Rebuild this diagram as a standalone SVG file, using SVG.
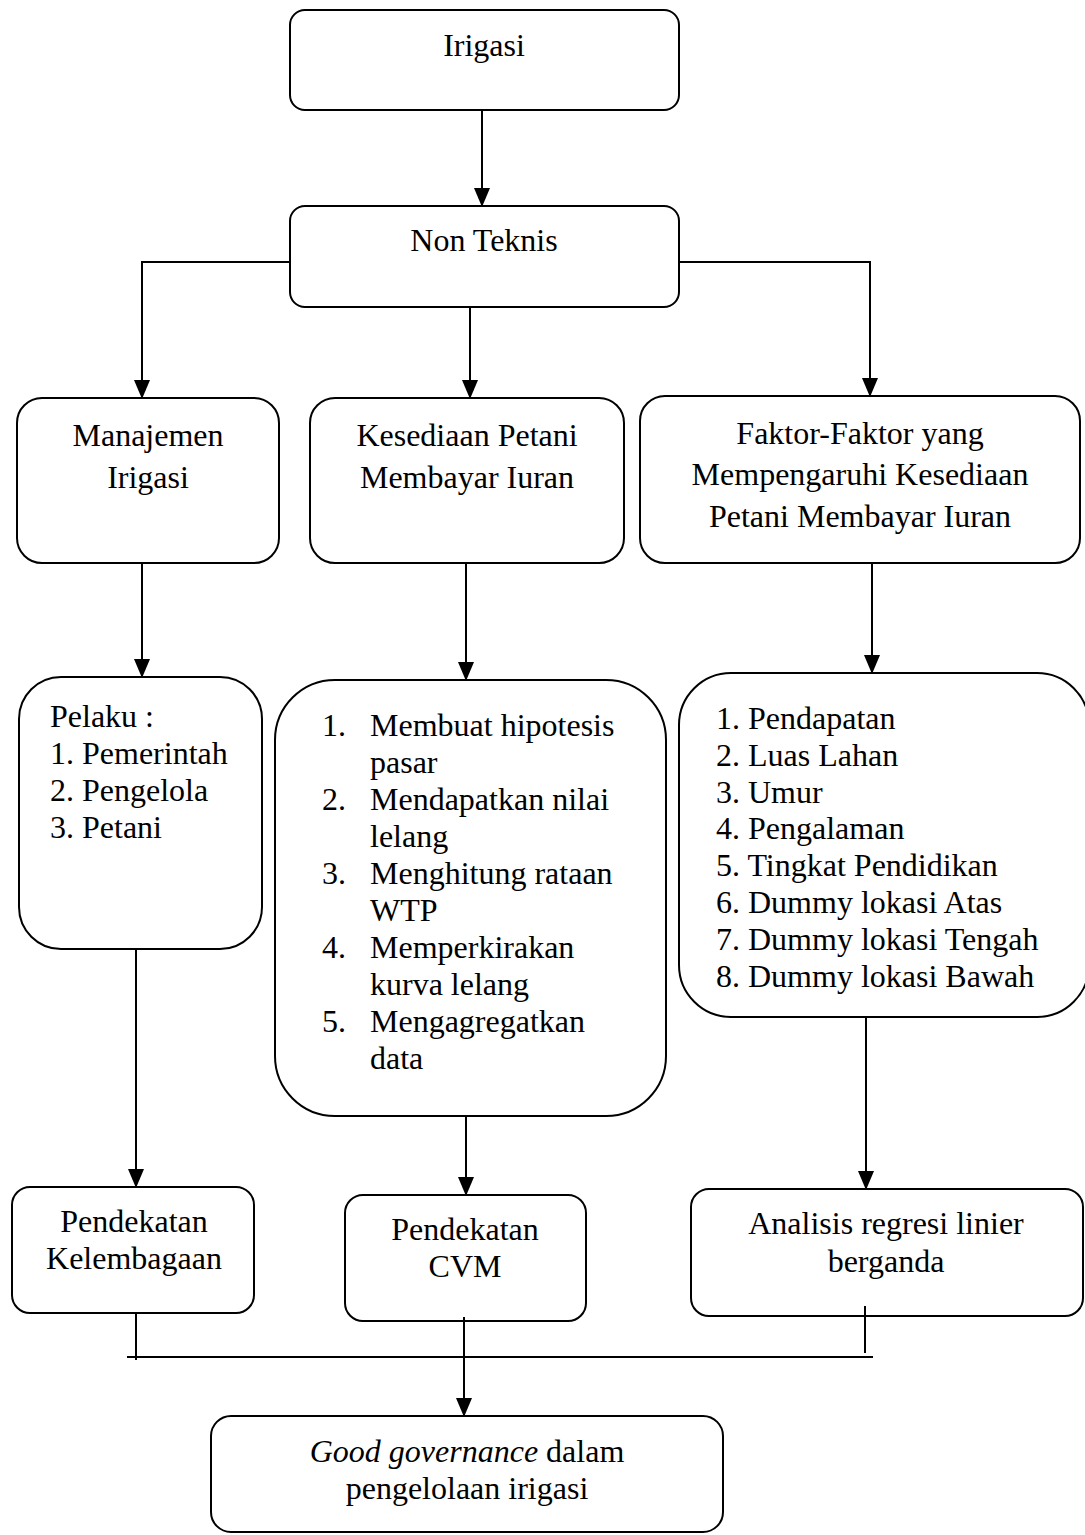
<svg xmlns="http://www.w3.org/2000/svg" width="1085" height="1535" viewBox="0 0 1085 1535">
<style>
.box{fill:#fff;stroke:#000;stroke-width:2}
.t{font-family:"Liberation Serif","Times New Roman",serif;font-size:32px;fill:#000}
.c{text-anchor:middle}
.con{fill:none;stroke:#000;stroke-width:2}
</style>
<defs>
<marker id="av" markerUnits="userSpaceOnUse" markerWidth="19" markerHeight="16" viewBox="0 0 19 16" refX="18" refY="8" orient="auto">
<path d="M0 0 L19 8 L0 16 Z" fill="#000"/>
</marker>
</defs>
<rect width="1085" height="1535" fill="#fff"/>

<g id="irigasi">
<rect class="box" x="290" y="10" width="389" height="100" rx="15"/>
<text class="t c" x="484" y="56">Irigasi</text>
</g>
<g id="non-teknis">
<rect class="box" x="290" y="206" width="389" height="101" rx="15"/>
<text class="t c" x="484" y="251">Non Teknis</text>
</g>
<g id="manajemen">
<rect class="box" x="17" y="398" width="262" height="165" rx="25"/>
<text class="t c" x="148" y="446">Manajemen</text>
<text class="t c" x="148" y="488">Irigasi</text>
</g>
<g id="kesediaan">
<rect class="box" x="310" y="398" width="314" height="165" rx="25"/>
<text class="t c" x="467" y="446">Kesediaan Petani</text>
<text class="t c" x="467" y="488">Membayar Iuran</text>
</g>
<g id="faktor">
<rect class="box" x="640" y="396" width="440" height="167" rx="25"/>
<text class="t c" x="860" y="444">Faktor-Faktor yang</text>
<text class="t c" x="860" y="485">Mempengaruhi Kesediaan</text>
<text class="t c" x="860" y="527">Petani Membayar Iuran</text>
</g>
<g id="pelaku">
<rect class="box" x="19" y="677" width="243" height="272" rx="42"/>
<text class="t" x="50" y="727">Pelaku :</text>
<text class="t" x="50" y="764">1. Pemerintah</text>
<text class="t" x="50" y="801">2. Pengelola</text>
<text class="t" x="50" y="838">3. Petani</text>
</g>
<g id="langkah-cvm">
<rect class="box" x="275" y="680" width="391" height="436" rx="60"/>
<text class="t" x="322" y="736">1.</text>
<text class="t" x="370" y="736">Membuat hipotesis</text>
<text class="t" x="370" y="773">pasar</text>
<text class="t" x="322" y="810">2.</text>
<text class="t" x="370" y="810">Mendapatkan nilai</text>
<text class="t" x="370" y="847">lelang</text>
<text class="t" x="322" y="884">3.</text>
<text class="t" x="370" y="884">Menghitung rataan</text>
<text class="t" x="370" y="921">WTP</text>
<text class="t" x="322" y="958">4.</text>
<text class="t" x="370" y="958">Memperkirakan</text>
<text class="t" x="370" y="995">kurva lelang</text>
<text class="t" x="322" y="1032">5.</text>
<text class="t" x="370" y="1032">Mengagregatkan</text>
<text class="t" x="370" y="1069">data</text>
</g>
<g id="variabel">
<rect class="box" x="679" y="673" width="410" height="344" rx="52"/>
<text class="t" x="716" y="729">1. Pendapatan</text>
<text class="t" x="716" y="766">2. Luas Lahan</text>
<text class="t" x="716" y="803">3. Umur</text>
<text class="t" x="716" y="839">4. Pengalaman</text>
<text class="t" x="716" y="876">5. Tingkat Pendidikan</text>
<text class="t" x="716" y="913">6. Dummy lokasi Atas</text>
<text class="t" x="716" y="950">7. Dummy lokasi Tengah</text>
<text class="t" x="716" y="987">8. Dummy lokasi Bawah</text>
</g>
<g id="kelembagaan">
<rect class="box" x="12" y="1187" width="242" height="126" rx="18"/>
<text class="t c" x="134" y="1232">Pendekatan</text>
<text class="t c" x="134" y="1269">Kelembagaan</text>
</g>
<g id="cvm">
<rect class="box" x="345" y="1195" width="241" height="126" rx="18"/>
<text class="t c" x="465" y="1240">Pendekatan</text>
<text class="t c" x="465" y="1277">CVM</text>
</g>
<g id="regresi">
<rect class="box" x="691" y="1189" width="392" height="127" rx="18"/>
<text class="t c" x="886" y="1234">Analisis regresi linier</text>
<text class="t c" x="886" y="1272">berganda</text>
</g>
<g id="good-governance">
<rect class="box" x="211" y="1416" width="512" height="116" rx="20"/>
<text class="t c" x="467" y="1462"><tspan font-style="italic">Good governance</tspan> dalam</text>
<text class="t c" x="467" y="1499">pengelolaan irigasi</text>
</g>

<g id="connectors">
<path class="con" d="M482 110 V206" marker-end="url(#av)"/>
<path class="con" d="M290 262 H142 V398" marker-end="url(#av)"/>
<path class="con" d="M470 307 V398" marker-end="url(#av)"/>
<path class="con" d="M679 262 H870 V396" marker-end="url(#av)"/>
<path class="con" d="M142 563 V677" marker-end="url(#av)"/>
<path class="con" d="M466 563 V680" marker-end="url(#av)"/>
<path class="con" d="M872 563 V673" marker-end="url(#av)"/>
<path class="con" d="M136 949 V1187" marker-end="url(#av)"/>
<path class="con" d="M466 1116 V1195" marker-end="url(#av)"/>
<path class="con" d="M866 1017 V1189" marker-end="url(#av)"/>
<path class="con" d="M136 1313 V1360"/>
<path class="con" d="M865 1306 V1353"/>
<path class="con" d="M127 1357 H873" stroke-width="2.5"/>
<path class="con" d="M464 1317 V1416" marker-end="url(#av)"/>
</g>
</svg>
